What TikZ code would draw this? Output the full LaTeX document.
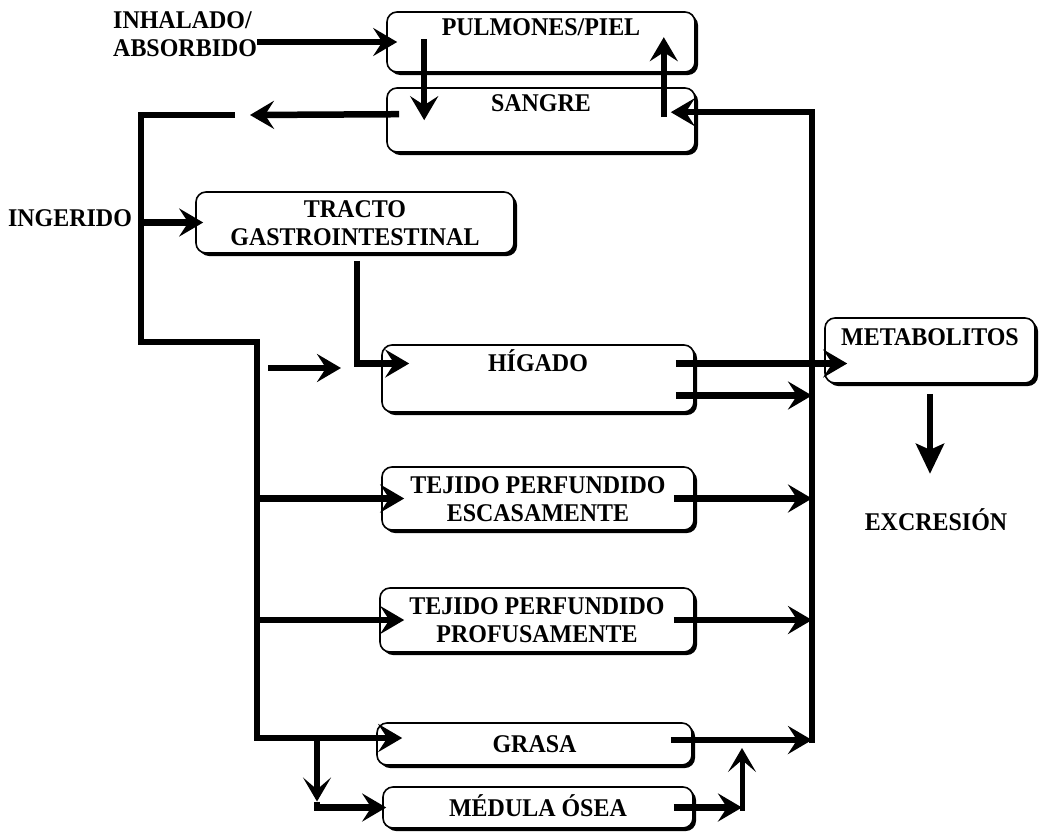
\documentclass[tikz,border=0pt]{standalone}
\usepackage{fontspec}
\setmainfont{Liberation Serif}[FakeStretch=0.94]
\usetikzlibrary{arrows.meta,shadows}
\newcommand\flowfont{\fontsize{25.5}{28}\selectfont\bfseries}
\begin{document}
\begin{tikzpicture}[x=1pt,y=-1pt,
  box/.style={draw, line width=1.6pt, rounded corners=10pt, fill=white,
    inner sep=0pt, align=center, font=\flowfont,
    text height=17pt, text depth=0pt,
    drop shadow={shadow xshift=3pt, shadow yshift=-3pt, fill=black, opacity=1}},
  twoline/.style={text height=45pt, text depth=0pt},
  lbl/.style={font=\flowfont, inner sep=0pt, text height=17pt, text depth=0pt},
  flow/.style={line width=6.5pt},
  arr/.style={flow, -{Stealth[length=24pt,width=28pt,inset=9pt]}},
  thinarr/.style={flow, -{Stealth[length=24pt,width=28pt,inset=12pt]}},
  downarr/.style={flow, -{Stealth[length=30pt,width=28pt,inset=6pt]}},
]
\useasboundingbox (0,0) rectangle (1052,833);

% compartments
\node[box, minimum width=308pt, minimum height=60pt, text depth=30pt] (pulm) at (541,42) {PULMONES/PIEL};
\node[box, minimum width=308pt, minimum height=64pt, text depth=34pt] (sang) at (541,120) {SANGRE};
\node[box, twoline, minimum width=318pt, minimum height=61pt] (tract) at (355,222.5) {TRACTO\\GASTROINTESTINAL};
\node[box, minimum width=312pt, minimum height=67pt, text depth=31pt] (hig) at (538,378.5) {HÍGADO};
\node[box, minimum width=210pt, minimum height=65pt, text depth=27pt] (meta) at (930,350.5) {METABOLITOS};
\node[box, twoline, minimum width=312pt, minimum height=63pt] (esc) at (538,498.5) {TEJIDO PERFUNDIDO\\ESCASAMENTE};
\node[box, twoline, minimum width=314pt, minimum height=64pt] (prof) at (537,620) {TEJIDO PERFUNDIDO\\PROFUSAMENTE};
\node[box, minimum width=315pt, minimum height=42pt] (grasa) at (534.5,744) {GRASA};
\node[box, minimum width=310pt, minimum height=41pt] (med) at (538,807.5) {MÉDULA ÓSEA};

% free labels
\node[lbl, twoline, anchor=west, align=left] (inh) at (113,34) {INHALADO/\\ABSORBIDO};
\node[lbl] (ing) at (70,218) {INGERIDO};
\node[lbl] (exc) at (936,522) {EXCRESIÓN};

% junction points
\coordinate (rbot) at (812,743);
\coordinate (gapR) at (250,115);
\coordinate (gapL) at (235,115);
\coordinate (lcorner) at (141,115);
\coordinate (lstep) at (141,342);
\coordinate (lbus) at (257,342);
\coordinate (freeS) at (268,368);
\coordinate (freeE) at (341,368);
\coordinate (split) at (317,738);
\coordinate (splitBot) at (split |- med.west);
\coordinate (medJ) at (742,807.5);
\coordinate (medUp) at (742,748);
\coordinate (higB) at ([xshift=-19pt,yshift=-17pt]hig.east);
\coordinate (grasaOut) at ([xshift=-22pt,yshift=4pt]grasa.east);

% exchange with the lungs and skin
\draw[arr] (inh.east |- pulm.west) -- ([xshift=11pt]pulm.west);
\draw[arr] ([xshift=38pt,yshift=-28pt]pulm.north west) -- ([xshift=38pt,yshift=-33pt]sang.north west);
\draw[arr] ([xshift=-32pt,yshift=-30pt]sang.north east) -- ([xshift=-32pt,yshift=-26pt]pulm.north east);

% venous return bus
\draw[arr] (rbot) |- ([xshift=-25pt,yshift=-25pt]sang.north east);

% arterial bus
\draw[arr] ([xshift=13pt,yshift=-27pt]sang.north west) -- (gapR);
\draw[arr] (gapL) -- (lcorner) -- (lstep) -- (lbus) |- ([xshift=26pt,yshift=6pt]grasa.west);
\draw[arr] (lcorner |- tract.west) -- ([xshift=8pt]tract.west);
\draw[arr] (freeS) -- (freeE);
\draw[arr] ([xshift=2pt,yshift=-7pt]tract.south) |- ([xshift=28pt,yshift=15pt]hig.west);

% liver outputs
\draw[arr] ([xshift=-19pt,yshift=15pt]hig.east) -- ([xshift=23pt,yshift=-13pt]meta.west);
\draw[arr] (higB) -- (higB -| rbot);

% tissues
\draw[arr] (esc.west -| lbus) -- ([xshift=23pt]esc.west);
\draw[arr] ([xshift=-21pt]esc.east) -- (esc.east -| rbot);
\draw[arr] (prof.west -| lbus) -- ([xshift=25pt]prof.west);
\draw[arr] ([xshift=-21pt]prof.east) -- (prof.east -| rbot);
\draw[arr] (grasaOut) -- (grasaOut -| rbot);

% bone marrow branch
\draw[thinarr] (split) -- ([yshift=6pt]splitBot);
\draw[arr] ([yshift=6pt]splitBot) -- (splitBot) -- ([xshift=4pt]med.west);
\draw[arr] ([xshift=-20pt]med.east) -- (medJ);
\draw[thinarr, line width=5pt] ([yshift=-3pt]medJ) -- (medUp);

% excretion
\draw[downarr] ([yshift=-10pt]meta.south) -- ([yshift=-90pt]meta.south);
\end{tikzpicture}
\end{document}
